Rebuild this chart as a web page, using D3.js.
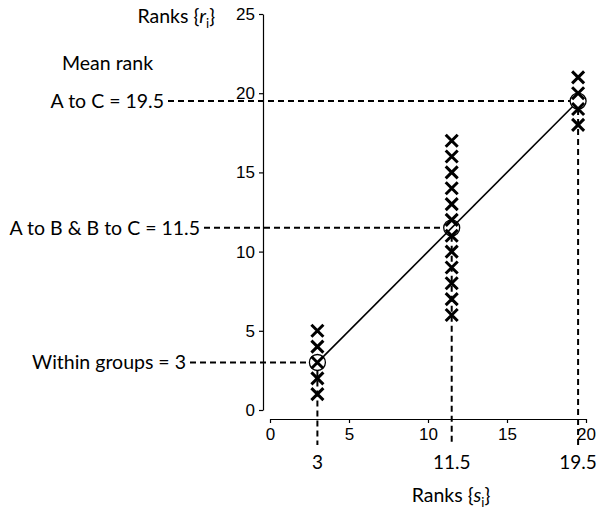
<!DOCTYPE html>
<html><head><meta charset="utf-8">
<script src="https://cdn.jsdelivr.net/npm/d3@7"></script>
<style>body{margin:0;background:#fff}</style>
</head><body>
<svg id="c" width="608" height="510"></svg>
<script>
const groupRanksS = [3, 11.5, 19.5];
const groupCrosses = [[1,2,3,4,5],[6,7,8,9,10,11,12,13,14,15,16,17],[18,19,20,21]];
const meanRanks = [3, 11.5, 19.5];
const meanLabels = ["Within groups = 3", "A to B & B to C = 11.5", "A to C = 19.5"];
const xTicks = [0,5,10,15,20];
const yTicks = [0,5,10,15,20,25];

const svg = d3.select("#c");
const x = d3.scaleLinear().domain([0,20]).range([270,586]);
const y = d3.scaleLinear().domain([0,25]).range([410,14]);
const sansA = "'Liberation Sans', Arial, sans-serif";
const sansC = "Lato, 'Open Sans', sans-serif";

// y axis
const ya = svg.append("g").attr("transform","translate(263,0)")
  .call(d3.axisLeft(y).tickValues(yTicks).tickSize(4).tickSizeOuter(0));
ya.selectAll("text").attr("font-family",sansA).attr("font-size",17).attr("fill","#000").attr("dx","-1");
ya.selectAll("path,line").attr("stroke","#000").attr("stroke-width",1.2);
// x axis
const xa = svg.append("g").attr("transform","translate(0,419)")
  .call(d3.axisBottom(x).tickValues(xTicks).tickSize(4).tickSizeOuter(0));
xa.selectAll("text").attr("font-family",sansA).attr("font-size",17).attr("fill","#000").attr("dy","0.8em");
xa.selectAll("path,line").attr("stroke","#000").attr("stroke-width",1.2);

const R = 8;
// dashed guides
const dash = "6,4";
const labelEnds = [190, 204, 168];
meanRanks.forEach((m,i)=>{
  svg.append("line").attr("x1",labelEnds[i]).attr("x2",x(groupRanksS[i])-R)
    .attr("y1",y(m)).attr("y2",y(m)).attr("stroke","#000").attr("stroke-width",2).attr("stroke-dasharray",dash);
  svg.append("line").attr("x1",x(groupRanksS[i])).attr("x2",x(groupRanksS[i]))
    .attr("y1",y(m)+R).attr("y2",445).attr("stroke","#000").attr("stroke-width",2).attr("stroke-dasharray",dash);
  svg.append("text").attr("x",labelEnds[i]-4).attr("y",y(m)+7).attr("text-anchor","end")
    .attr("font-family",sansC).attr("font-size",19.5).text(meanLabels[i]);
  svg.append("text").attr("x",x(groupRanksS[i])).attr("y",469).attr("text-anchor","middle")
    .attr("font-family",sansC).attr("font-size",19).text(String(groupRanksS[i]));
});

// crosses
const cs = 6;
groupCrosses.forEach((arr,i)=>{
  arr.forEach(r=>{
    const cx = x(groupRanksS[i]), cy = y(r);
    svg.append("path").attr("d",`M${cx-cs},${cy-cs}L${cx+cs},${cy+cs}M${cx+cs},${cy-cs}L${cx-cs},${cy+cs}`)
      .attr("stroke","#000").attr("stroke-width",3).attr("fill","none");
  });
});

// regression line
const p0 = [x(groupRanksS[0]), y(meanRanks[0])], p1 = [x(groupRanksS[2]), y(meanRanks[2])];
const L = Math.hypot(p1[0]-p0[0], p1[1]-p0[1]);
const ux = (p1[0]-p0[0])/L, uy = (p1[1]-p0[1])/L;
svg.append("line").attr("x1",p0[0]+ux*R).attr("y1",p0[1]+uy*R).attr("x2",p1[0]-ux*R).attr("y2",p1[1]-uy*R)
  .attr("stroke","#000").attr("stroke-width",1.6);

// circles
meanRanks.forEach((m,i)=>{
  svg.append("circle").attr("cx",x(groupRanksS[i])).attr("cy",y(m)).attr("r",R)
    .attr("fill","none").attr("stroke","#000").attr("stroke-width",1.3);
});

// titles
const t1 = svg.append("text").attr("x",215).attr("y",23).attr("text-anchor","end")
  .attr("font-family",sansC).attr("font-size",19.5);
t1.append("tspan").text("Ranks {");
t1.append("tspan").attr("font-style","italic").text("r");
t1.append("tspan").attr("font-size",13).attr("dy",5).text("i");
t1.append("tspan").attr("dy",-5).text("}");
svg.append("text").attr("x",62).attr("y",70).attr("font-family",sansC).attr("font-size",19.5).text("Mean rank");
const t2 = svg.append("text").attr("x",451).attr("y",502).attr("text-anchor","middle")
  .attr("font-family",sansC).attr("font-size",19.5);
t2.append("tspan").text("Ranks {");
t2.append("tspan").attr("font-style","italic").text("s");
t2.append("tspan").attr("font-size",13).attr("dy",5).text("i");
t2.append("tspan").attr("dy",-5).text("}");
</script>
</body></html>
